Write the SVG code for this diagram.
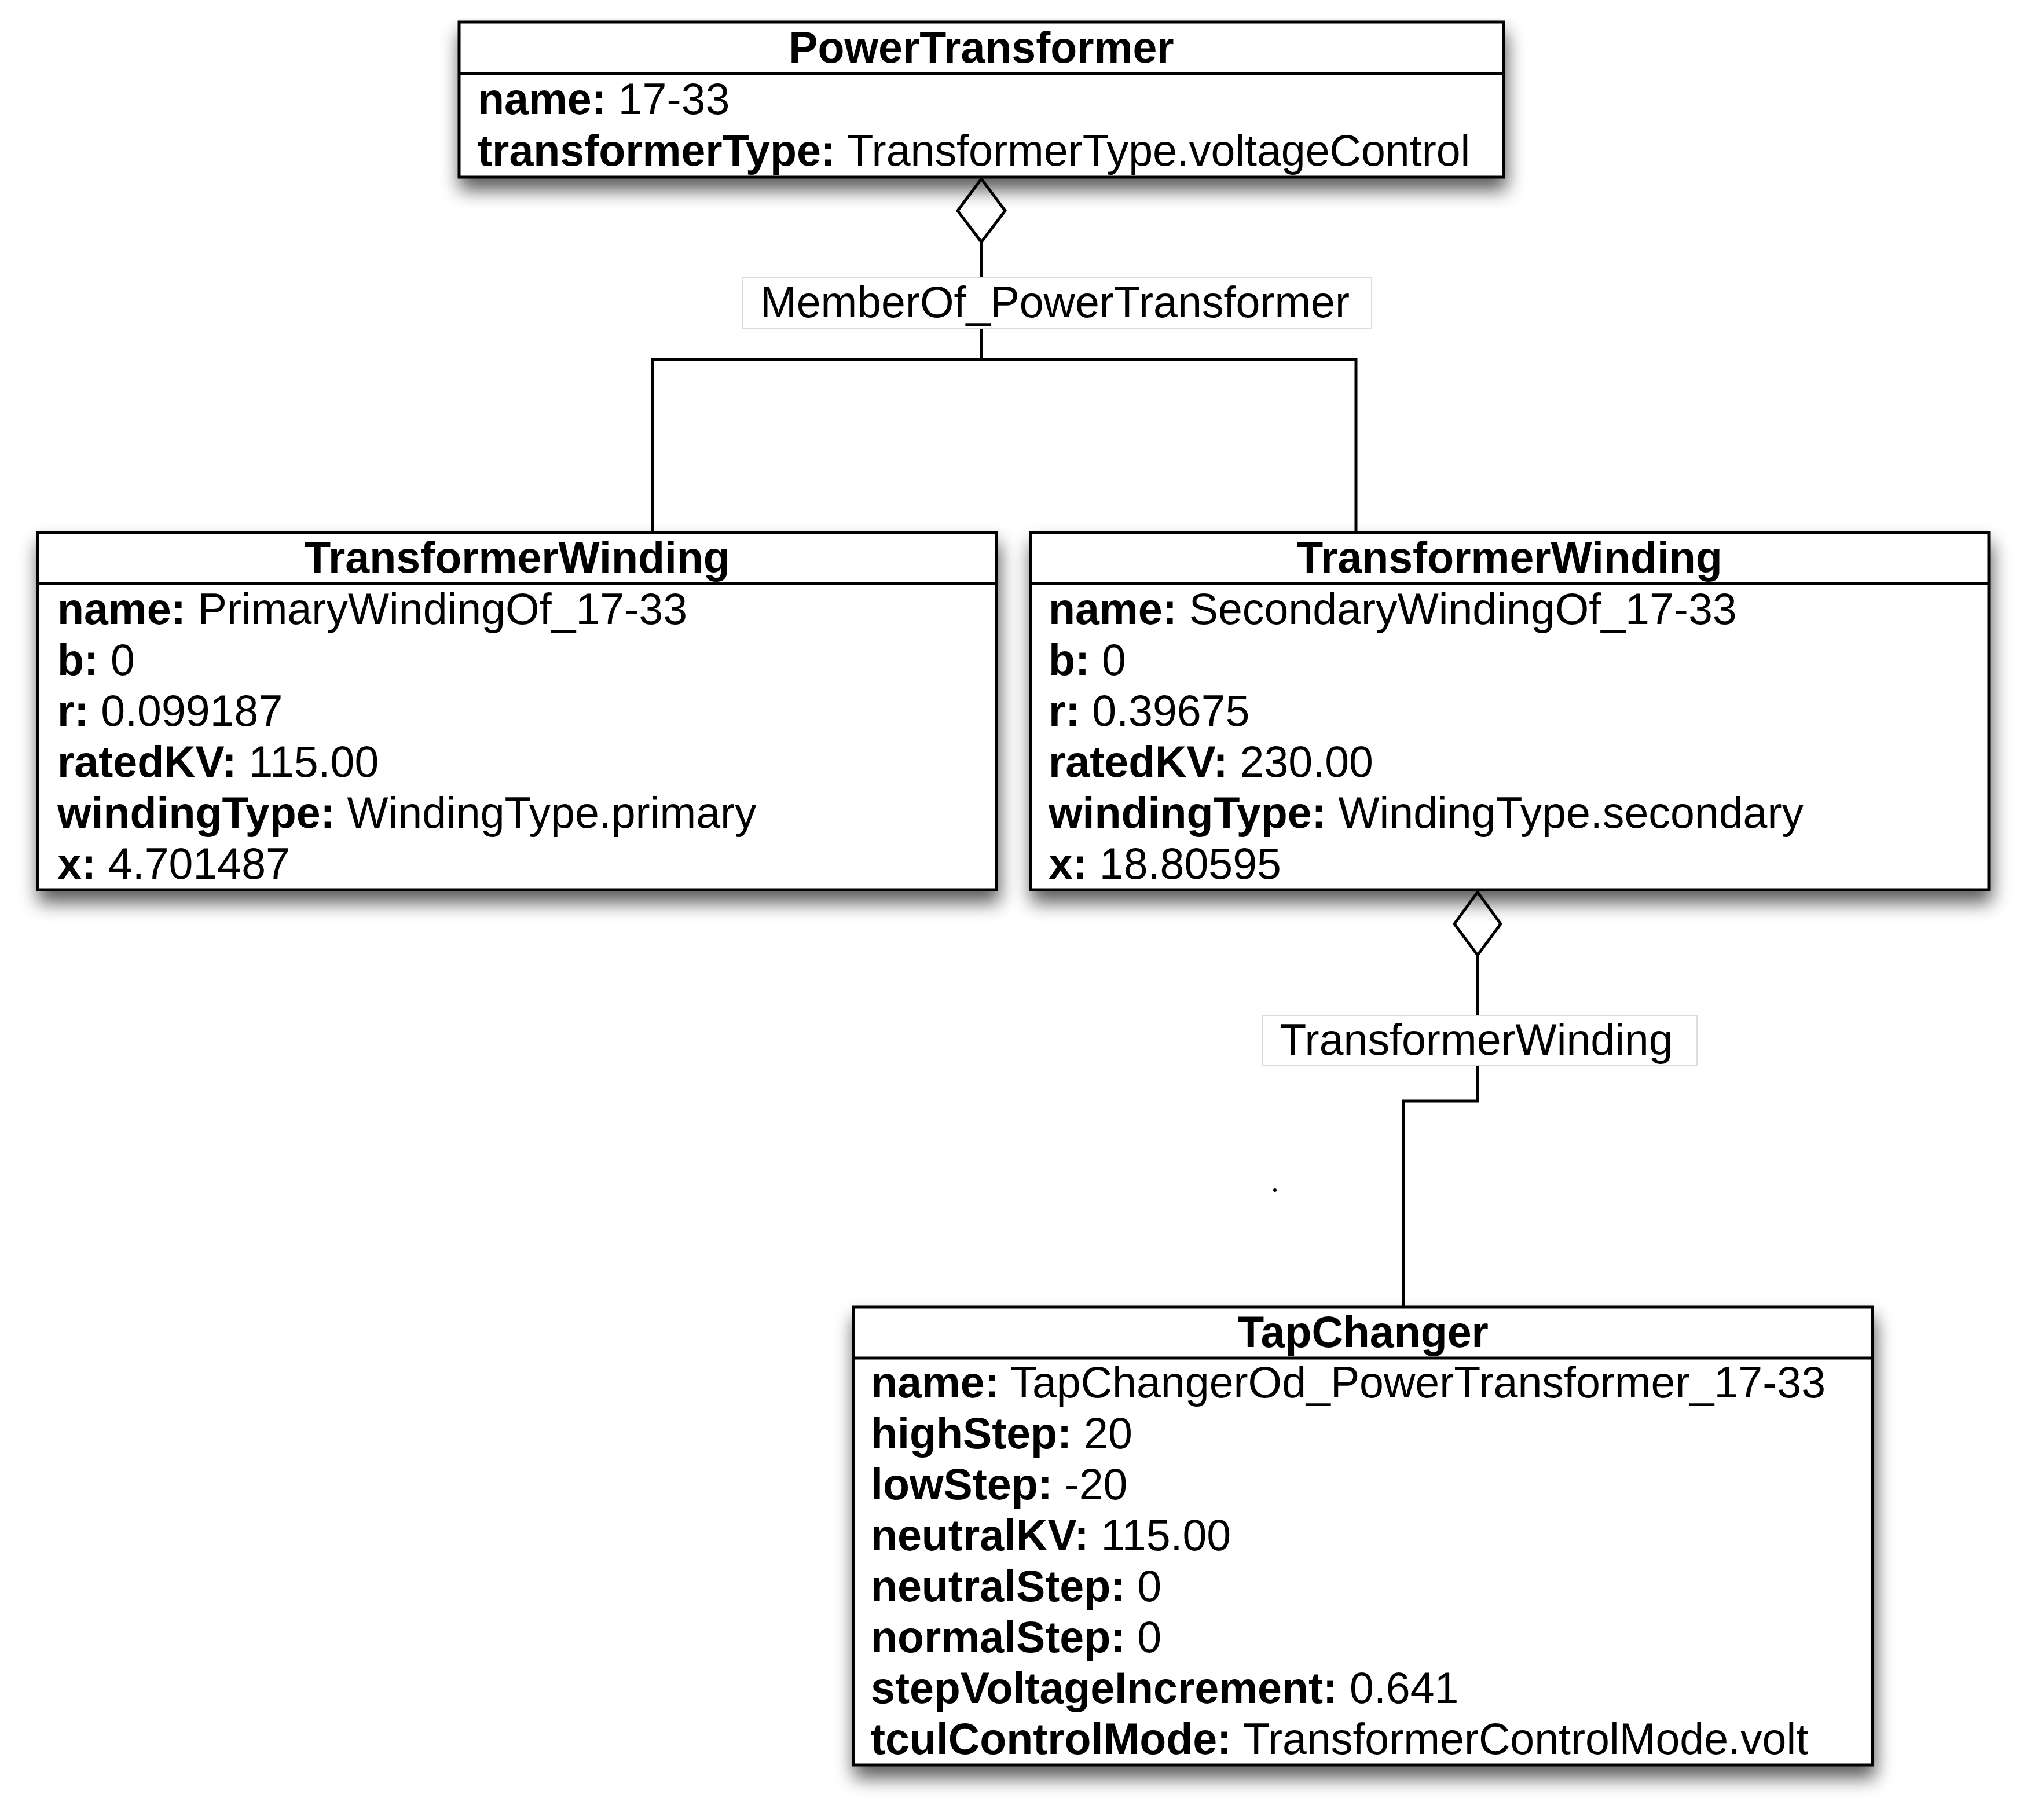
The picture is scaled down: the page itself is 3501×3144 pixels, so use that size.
<svg xmlns="http://www.w3.org/2000/svg" width="3501" height="3144" viewBox="0 0 3501 3144">
<style>
.box{fill:#fff;stroke:#000;stroke-width:5}
.div{stroke:#000;stroke-width:5}
.hdr{font-family:"Liberation Sans",Arial,sans-serif;font-size:75.3px;font-weight:bold;text-anchor:middle;fill:#000}
.att{font-family:"Liberation Sans",Arial,sans-serif;font-size:75.3px;fill:#000}
.att tspan.k{font-weight:bold}
.con{fill:none;stroke:#000;stroke-width:5}
.dia{fill:#fff;stroke:#000;stroke-width:5;stroke-linejoin:miter}
.lbl{fill:#fff;stroke:#dcdcdc;stroke-width:2}
.lt{font-family:"Liberation Sans",Arial,sans-serif;font-size:75.3px;text-anchor:middle;fill:#000}
</style>
<defs>
<filter id="sh" x="-5%" y="-10%" width="110%" height="130%">
<feGaussianBlur in="SourceAlpha" stdDeviation="16"/>
<feOffset dx="3" dy="20" result="b"/>
<feComponentTransfer><feFuncA type="linear" slope="0.65"/></feComponentTransfer>
<feMerge><feMergeNode/><feMergeNode in="SourceGraphic"/></feMerge>
</filter>
</defs>
<rect width="3501" height="3144" fill="#fff"/>

<g id="connectors">
<line class="con" x1="1695" y1="418" x2="1695" y2="621"/>
<polyline class="con" points="1127,920 1127,621 2342,621 2342,920"/>
<polygon class="dia" points="1695,309 1736,364 1695,418 1654,364"/>
<rect class="lbl" x="1282" y="480" width="1087" height="87"/>
<text class="lt" x="1822" y="548">MemberOf_PowerTransformer</text>

<polyline class="con" points="2552,1650 2552,1902 2424,1902 2424,2258"/>
<polygon class="dia" points="2552,1541 2592,1596 2552,1650 2512,1596"/>
<rect class="lbl" x="2181" y="1754" width="750" height="87"/>
<text class="lt" x="2550" y="1822">TransformerWinding</text>
<circle cx="2202" cy="2056" r="3" fill="#000"/>
</g>

<g id="PowerTransformer">
<rect class="box" x="793" y="38" width="1804" height="268" filter="url(#sh)"/>
<line class="div" x1="793" y1="127" x2="2597" y2="127"/>
<text class="hdr" x="1695" y="108">PowerTransformer</text>
<text class="att" x="825" y="197"><tspan class="k">name:</tspan> 17-33</text>
<text class="att" x="825" y="286"><tspan class="k">transformerType:</tspan> TransformerType.voltageControl</text>
</g>

<g id="TransformerWinding1">
<rect class="box" x="65" y="920" width="1656" height="617" filter="url(#sh)"/>
<line class="div" x1="65" y1="1008" x2="1721" y2="1008"/>
<text class="hdr" x="893" y="989">TransformerWinding</text>
<text class="att" x="99" y="1078"><tspan class="k">name:</tspan> PrimaryWindingOf_17-33</text>
<text class="att" x="99" y="1166"><tspan class="k">b:</tspan> 0</text>
<text class="att" x="99" y="1254"><tspan class="k">r:</tspan> 0.099187</text>
<text class="att" x="99" y="1342"><tspan class="k">ratedKV:</tspan> 115.00</text>
<text class="att" x="99" y="1430"><tspan class="k">windingType:</tspan> WindingType.primary</text>
<text class="att" x="99" y="1518"><tspan class="k">x:</tspan> 4.701487</text>
</g>

<g id="TransformerWinding2">
<rect class="box" x="1780" y="920" width="1655" height="617" filter="url(#sh)"/>
<line class="div" x1="1780" y1="1008" x2="3435" y2="1008"/>
<text class="hdr" x="2607" y="989">TransformerWinding</text>
<text class="att" x="1811" y="1078"><tspan class="k">name:</tspan> SecondaryWindingOf_17-33</text>
<text class="att" x="1811" y="1166"><tspan class="k">b:</tspan> 0</text>
<text class="att" x="1811" y="1254"><tspan class="k">r:</tspan> 0.39675</text>
<text class="att" x="1811" y="1342"><tspan class="k">ratedKV:</tspan> 230.00</text>
<text class="att" x="1811" y="1430"><tspan class="k">windingType:</tspan> WindingType.secondary</text>
<text class="att" x="1811" y="1518"><tspan class="k">x:</tspan> 18.80595</text>
</g>

<g id="TapChanger">
<rect class="box" x="1474" y="2258" width="1760" height="791" filter="url(#sh)"/>
<line class="div" x1="1474" y1="2346" x2="3234" y2="2346"/>
<text class="hdr" x="2354" y="2327">TapChanger</text>
<text class="att" x="1504" y="2414"><tspan class="k">name:</tspan> TapChangerOd_PowerTransformer_17-33</text>
<text class="att" x="1504" y="2502"><tspan class="k">highStep:</tspan> 20</text>
<text class="att" x="1504" y="2590"><tspan class="k">lowStep:</tspan> -20</text>
<text class="att" x="1504" y="2678"><tspan class="k">neutralKV:</tspan> 115.00</text>
<text class="att" x="1504" y="2766"><tspan class="k">neutralStep:</tspan> 0</text>
<text class="att" x="1504" y="2854"><tspan class="k">normalStep:</tspan> 0</text>
<text class="att" x="1504" y="2942"><tspan class="k">stepVoltageIncrement:</tspan> 0.641</text>
<text class="att" x="1504" y="3030"><tspan class="k">tculControlMode:</tspan> TransformerControlMode.volt</text>
</g>
</svg>
